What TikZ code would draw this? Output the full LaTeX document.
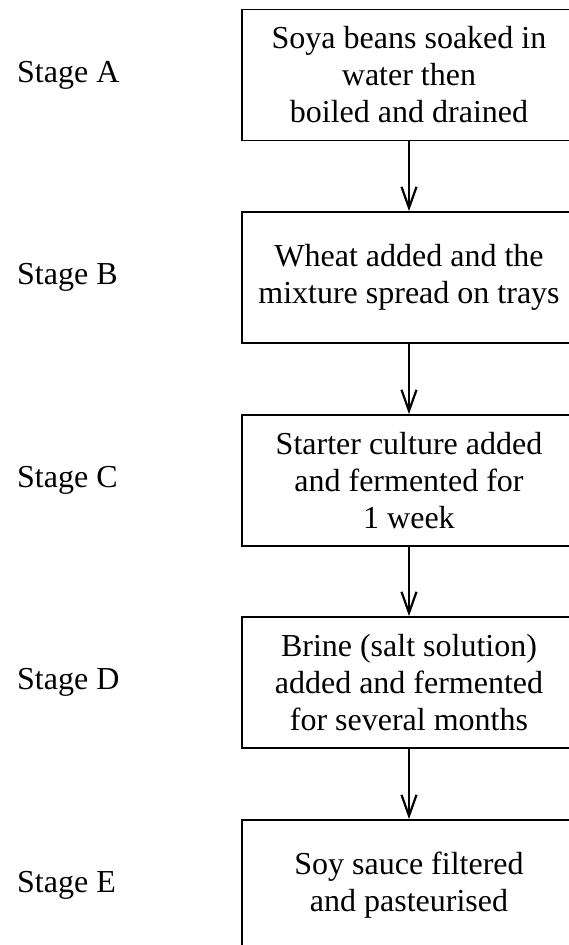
\documentclass[tikz,border=0pt]{standalone}
\usepackage{fontspec}
\setmainfont{Liberation Serif}
\usetikzlibrary{arrows.meta}
\begin{document}
\begin{tikzpicture}[x=1pt,y=-1pt,
  stagebox/.style={draw, line width=1.8pt, minimum width=334pt, minimum height=131pt,
    align=center, font=\fontsize{32}{37}\selectfont, inner sep=0pt},
  stagelabel/.style={anchor=west, font=\fontsize{32}{37}\selectfont, inner sep=0pt},
  flow/.style={line width=2.2pt, -{Straight Barb[length=21pt,width=15pt,line width=2.2pt]}}]
\useasboundingbox (0,0) rectangle (569,945);
\clip (0,0) rectangle (569,945);
\node[stagebox] (a) at (409,75) {Soya beans soaked in\\water then\\boiled and drained};
\node[stagebox] (b) at (409,277.5) {Wheat added and the\\mixture spread on trays};
\node[stagebox] (c) at (409,480.5) {Starter culture added\\and fermented for\\1 week};
\node[stagebox] (d) at (409,682.5) {Brine (salt solution)\\added and fermented\\for several months};
\node[stagebox] (e) at (409,885.5) {Soy sauce filtered\\and pasteurised};
\node[stagelabel] (la) at (17,75) {Stage A};
\node[stagelabel] (lb) at (17,277.5) {Stage B};
\node[stagelabel] (lc) at (17,480.5) {Stage C};
\node[stagelabel] (ld) at (17,682.5) {Stage D};
\node[stagelabel] (le) at (17,885.5) {Stage E};
\draw[flow] (a.south) -- (b.north);
\draw[flow] (b.south) -- (c.north);
\draw[flow] (c.south) -- (d.north);
\draw[flow] (d.south) -- (e.north);
\end{tikzpicture}
\end{document}
